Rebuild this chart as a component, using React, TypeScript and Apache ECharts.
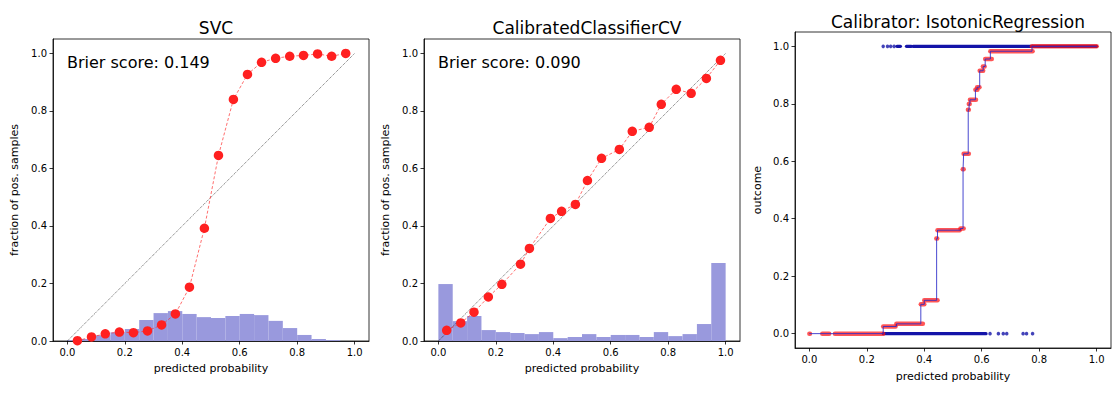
import React, { useEffect, useRef } from 'react';
import * as echarts from 'echarts';

const FONT = 'DejaVu Sans';

const tickValues = [0, 0.2, 0.4, 0.6, 0.8, 1.0];
const binEdges = [0, 0.05, 0.1, 0.15, 0.2, 0.25, 0.3, 0.35, 0.4, 0.45, 0.5, 0.55, 0.6, 0.65, 0.7, 0.75, 0.8, 0.85, 0.9, 0.95, 1.0];

const svcMeanPred = [0.035, 0.084, 0.132, 0.181, 0.23, 0.279, 0.328, 0.376, 0.425, 0.477, 0.526, 0.578, 0.627, 0.676, 0.725, 0.774, 0.822, 0.871, 0.92, 0.969];
const svcFracPos = [0.001, 0.014, 0.025, 0.031, 0.029, 0.035, 0.056, 0.094, 0.187, 0.392, 0.645, 0.84, 0.927, 0.969, 0.983, 0.99, 0.993, 0.998, 0.99, 1.0];
const svcHist = [0.003, 0.007, 0.02, 0.03, 0.042, 0.073, 0.097, 0.104, 0.094, 0.083, 0.08, 0.087, 0.094, 0.09, 0.07, 0.045, 0.021, 0.007, 0.003, 0.0];

const ccvMeanPred = [0.029, 0.078, 0.124, 0.174, 0.221, 0.286, 0.317, 0.39, 0.429, 0.477, 0.519, 0.568, 0.63, 0.675, 0.734, 0.776, 0.828, 0.88, 0.933, 0.982];
const ccvFracPos = [0.037, 0.063, 0.1, 0.153, 0.197, 0.267, 0.322, 0.426, 0.451, 0.475, 0.558, 0.635, 0.666, 0.729, 0.743, 0.823, 0.875, 0.861, 0.913, 0.976];
const ccvHist = [0.198, 0.069, 0.087, 0.038, 0.031, 0.028, 0.024, 0.031, 0.01, 0.014, 0.024, 0.014, 0.021, 0.021, 0.014, 0.031, 0.017, 0.024, 0.059, 0.271];

// Isotonic calibrator (step function)
const isoStepX = [0.0, 0.257, 0.303, 0.388, 0.4, 0.443, 0.446, 0.526, 0.535, 0.537, 0.553, 0.556, 0.559, 0.578, 0.584, 0.593, 0.605, 0.612, 0.63, 0.775, 1.0];
const isoStepY = [0.0, 0.025, 0.034, 0.102, 0.116, 0.331, 0.36, 0.366, 0.572, 0.626, 0.779, 0.799, 0.814, 0.849, 0.858, 0.915, 0.93, 0.956, 0.983, 1.0, 1.0];

// calibrated outputs (red points) grouped into runs
const redRunStart = [0.0, 0.045, 0.089, 0.257, 0.303, 0.388, 0.4, 0.442, 0.446, 0.526, 0.534, 0.537, 0.552, 0.555, 0.559, 0.578, 0.584, 0.593, 0.604, 0.612, 0.63, 0.775];
const redRunEnd = [0.002, 0.069, 0.257, 0.3, 0.395, 0.4, 0.446, 0.445, 0.523, 0.537, 0.537, 0.555, 0.555, 0.558, 0.58, 0.585, 0.592, 0.605, 0.61, 0.635, 0.777, 1.0];
const redRunY = [0.0, 0.0, 0.0, 0.025, 0.034, 0.102, 0.116, 0.331, 0.36, 0.366, 0.572, 0.626, 0.779, 0.799, 0.814, 0.849, 0.858, 0.915, 0.93, 0.956, 0.983, 1.0];

// true outcomes (blue points): dense runs and isolated points
const blueRunStart = [0.257, 0.305, 0.338, 0.361, 0.777];
const blueRunEnd = [0.615, 0.317, 0.355, 0.777, 1.0];
const blueRunY = [0, 1, 1, 1, 1];
const blueDotX = [0.629, 0.658, 0.675, 0.687, 0.744, 0.756, 0.777, 0.257, 0.272, 0.283, 0.295];
const blueDotY = [0, 0, 0, 0, 0, 0, 0, 1, 1, 1, 1];

const histData = (h: number[]) => h.map((v, i) => [binEdges[i], binEdges[i + 1], v]);
const runData = (s: number[], e: number[], y: number[]) => s.map((v, i) => [v, e[i], y[i]]);

function histRender(params: any, api: any) {
  const p0 = api.coord([api.value(0), api.value(2)]);
  const p1 = api.coord([api.value(1), 0]);
  return {
    type: 'rect',
    shape: { x: p0[0], y: p0[1], width: p1[0] - p0[0], height: p1[1] - p0[1] },
    style: { fill: '#9999dd' },
  };
}

function runRender(color: string, width: number) {
  return (params: any, api: any) => {
    const a = api.coord([api.value(0), api.value(2)]);
    const b = api.coord([api.value(1), api.value(2)]);
    return {
      type: 'line',
      shape: { x1: a[0], y1: a[1], x2: b[0] + 0.01, y2: b[1] },
      style: { stroke: color, lineWidth: width, lineCap: 'round' },
    };
  };
}

function axis(gridIndex: number, min: number, max: number, name: string, nameGap: number) {
  return {
    type: 'value',
    gridIndex,
    min,
    max,
    name,
    nameLocation: 'middle',
    nameGap,
    nameTextStyle: { fontSize: 11, color: '#000', fontFamily: FONT },
    axisLine: { show: true, onZero: false, lineStyle: { color: '#000', width: 0.8 } },
    axisTick: { show: true, customValues: tickValues, length: 3.5, lineStyle: { color: '#000', width: 0.8 } },
    axisLabel: {
      show: true,
      customValues: tickValues,
      formatter: (v: number) => v.toFixed(1),
      fontSize: 10,
      color: '#000',
      fontFamily: FONT,
      margin: 6,
    },
    splitLine: { show: false },
  };
}

export default function App() {
  const ref = useRef<HTMLDivElement>(null);
  useEffect(() => {
    if (!ref.current) return;
    const chart = echarts.init(ref.current, undefined, { renderer: 'svg' });
    const gridStyle = { show: true, borderColor: '#000', borderWidth: 0.8, backgroundColor: 'transparent' };
    const titleStyle = { fontSize: 17, fontWeight: 'normal', color: '#000', fontFamily: FONT };
    const diagStyle = { color: 'rgba(0,0,0,0.85)', width: 0.7, type: [1, 1] };
    const option: any = {
      animation: false,
      backgroundColor: '#fff',
      title: [
        { text: 'SVC', left: 211, top: 14, textAlign: 'center', textStyle: titleStyle },
        { text: 'CalibratedClassifierCV', left: 582, top: 14, textAlign: 'center', textStyle: titleStyle },
        { text: 'Calibrator: IsotonicRegression', left: 953, top: 8, textAlign: 'center', textStyle: titleStyle },
      ],
      grid: [
        { left: 53, top: 39, width: 316, height: 302, ...gridStyle },
        { left: 424, top: 39, width: 316, height: 302, ...gridStyle },
        { left: 795, top: 32, width: 316, height: 316, ...gridStyle },
      ],
      xAxis: [
        axis(0, -0.05, 1.05, 'predicted probability', 22),
        axis(1, -0.05, 1.05, 'predicted probability', 22),
        axis(2, -0.05, 1.05, 'predicted probability', 23),
      ],
      yAxis: [
        axis(0, 0, 1.05, 'fraction of pos. samples', 33),
        axis(1, 0, 1.05, 'fraction of pos. samples', 33),
        axis(2, -0.05, 1.05, 'outcome', 32),
      ],
      graphic: [
        { type: 'text', x: 67, y: 62, style: { text: 'Brier score: 0.149', font: `16px "${FONT}"`, fill: '#000', verticalAlign: 'middle' } },
        { type: 'text', x: 438, y: 62, style: { text: 'Brier score: 0.090', font: `16px "${FONT}"`, fill: '#000', verticalAlign: 'middle' } },
      ],
      series: [
        // panel 1
        { type: 'custom', xAxisIndex: 0, yAxisIndex: 0, renderItem: histRender, data: histData(svcHist), encode: { x: [0, 1], y: 2 }, z: 1 },
        { type: 'line', xAxisIndex: 0, yAxisIndex: 0, data: [[0, 0], [1, 1]], showSymbol: false, lineStyle: diagStyle, z: 2 },
        {
          type: 'line', xAxisIndex: 0, yAxisIndex: 0,
          data: svcMeanPred.map((x, i) => [x, svcFracPos[i]]),
          symbol: 'circle', symbolSize: 9.5,
          itemStyle: { color: '#ff2020', borderWidth: 0 },
          lineStyle: { color: '#ff3030', width: 0.7, type: [3, 2] }, z: 3,
        },
        // panel 2
        { type: 'custom', xAxisIndex: 1, yAxisIndex: 1, renderItem: histRender, data: histData(ccvHist), encode: { x: [0, 1], y: 2 }, z: 1 },
        { type: 'line', xAxisIndex: 1, yAxisIndex: 1, data: [[0, 0], [1, 1]], showSymbol: false, lineStyle: diagStyle, z: 2 },
        {
          type: 'line', xAxisIndex: 1, yAxisIndex: 1,
          data: ccvMeanPred.map((x, i) => [x, ccvFracPos[i]]),
          symbol: 'circle', symbolSize: 9.5,
          itemStyle: { color: '#ff2020', borderWidth: 0 },
          lineStyle: { color: '#ff3030', width: 0.7, type: [3, 2] }, z: 3,
        },
        // panel 3
        { type: 'custom', xAxisIndex: 2, yAxisIndex: 2, renderItem: runRender('#1414a8', 3.2), data: runData(blueRunStart, blueRunEnd, blueRunY), encode: { x: [0, 1], y: 2 }, z: 1 },
        {
          type: 'scatter', xAxisIndex: 2, yAxisIndex: 2,
          data: blueDotX.map((x, i) => [x, blueDotY[i]]),
          symbol: 'circle', symbolSize: 3.5, itemStyle: { color: '#1414a8' }, z: 1,
        },
        { type: 'custom', xAxisIndex: 2, yAxisIndex: 2, renderItem: runRender('rgba(255,20,20,0.72)', 4.5), data: runData(redRunStart, redRunEnd, redRunY), encode: { x: [0, 1], y: 2 }, z: 2 },
        {
          type: 'line', xAxisIndex: 2, yAxisIndex: 2,
          data: isoStepX.map((x, i) => [x, isoStepY[i]]),
          step: 'end', showSymbol: false,
          lineStyle: { color: 'rgba(40,40,200,0.85)', width: 1 }, z: 3,
        },
      ],
    };
    chart.setOption(option);
    return () => chart.dispose();
  }, []);
  return <div ref={ref} style={{ position: 'fixed', left: 0, top: 0, width: 1120, height: 393 }} />;
}
